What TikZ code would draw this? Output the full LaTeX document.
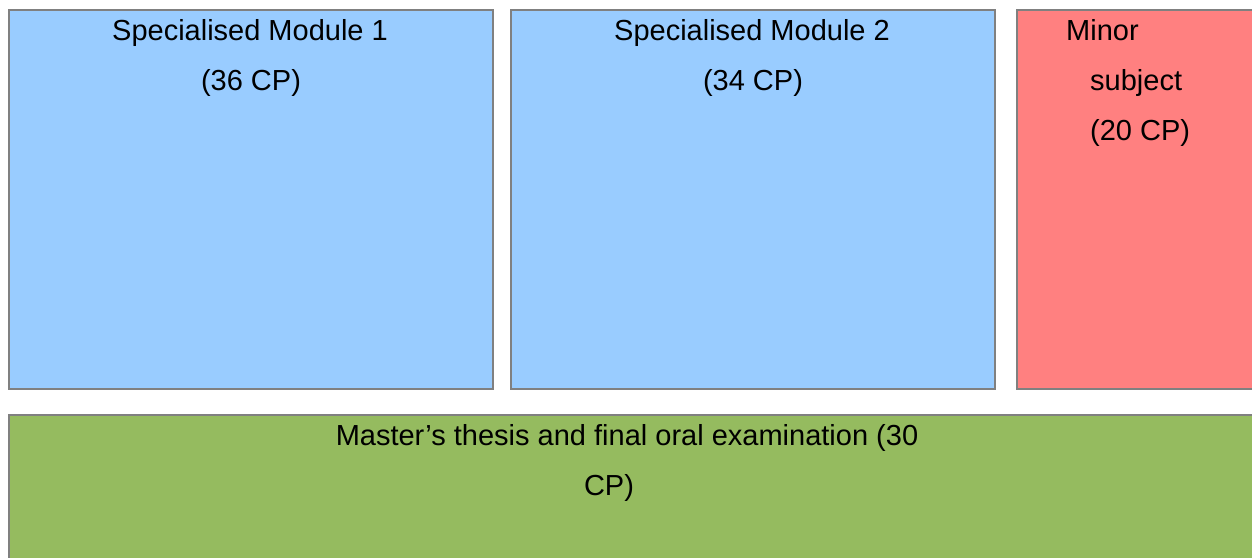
\documentclass[tikz,border=0pt]{standalone}
\usepackage{fontspec}
\setmainfont{Liberation Sans}
\definecolor{modblue}{HTML}{99CCFF}
\definecolor{minred}{HTML}{FF8080}
\definecolor{thgreen}{HTML}{95BB5F}
\definecolor{edgegray}{HTML}{808080}
\begin{document}
\begin{tikzpicture}[x=1pt,y=-1pt,
  blockbox/.style={draw=edgegray, line width=2pt},
  lbl/.style={font=\fontsize{29}{34}\selectfont, inner sep=0pt, anchor=base}]
\useasboundingbox (0,0) rectangle (1252,557);
\fill[white] (0,0) rectangle (1252,557);
% boxes
\draw[blockbox, fill=modblue] (9,10) rectangle (493,389);
\draw[blockbox, fill=modblue] (511,10) rectangle (995,389);
\draw[blockbox, fill=minred] (1017,10) rectangle (1270,389);
\draw[blockbox, fill=thgreen] (9,415) rectangle (1270,580);
% texts
\node[lbl] (m1a) at (250,40) {Specialised Module 1};
\node[lbl] (m1b) at (251,90) {(36 CP)};
\node[lbl] (m2a) at (752,40) {Specialised Module 2};
\node[lbl] (m2b) at (753,90) {(34 CP)};
\node[lbl, anchor=base west] (mina) at (1066,40) {Minor};
\node[lbl, anchor=base west] (minb) at (1090,90) {subject};
\node[lbl, anchor=base west] (minc) at (1090,140) {(20 CP)};
\node[lbl] (tha) at (627,445) {Master’s thesis and final oral examination (30};
\node[lbl] (thb) at (609,495) {CP)};
\end{tikzpicture}
\end{document}
